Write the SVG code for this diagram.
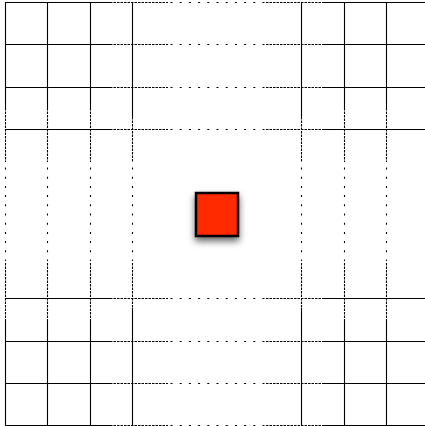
<svg xmlns="http://www.w3.org/2000/svg" width="425" height="426" viewBox="0 0 425 426">
  <style>
    .s { stroke: #000; stroke-width: 1.1; fill: none; }
    .d { stroke: #000; stroke-width: 1.1; fill: none; stroke-dasharray: 2.5 1; }
    .o { stroke: #000; stroke-width: 1.1; fill: none; stroke-dasharray: 2 7.2; }
  </style>
  <defs>
    <filter id="shadow" x="-40%" y="-40%" width="180%" height="180%">
      <feDropShadow dx="0" dy="4" stdDeviation="3.5" flood-color="#000" flood-opacity="0.6"/>
    </filter>
  </defs>
  <rect width="425" height="426" fill="#fff"/>
  <g id="grid">
    <g id="horizontal">
      <path class="s" d="M5 2.5H110M322 2.5H425M5 44.5H110M322 44.5H425M5 87.5H110M322 87.5H425M5 129.5H110M322 129.5H425M5 298.5H110M322 298.5H425M5 341.5H110M322 341.5H425M5 383.5H110M322 383.5H425M5 425.5H110M322 425.5H425"/>
      <path class="d" d="M110 2.5H168M266 2.5H322M110 44.5H168M266 44.5H322M110 87.5H168M266 87.5H322M110 129.5H168M266 129.5H322M110 298.5H168M266 298.5H322M110 341.5H168M266 341.5H322M110 383.5H168M266 383.5H322M110 425.5H168M266 425.5H322"/>
      <path class="o" d="M170.5 2.5H265M170.5 44.5H265M170.5 87.5H265M170.5 129.5H265M170.5 298.5H265M170.5 341.5H265M170.5 383.5H265M170.5 425.5H265"/>
    </g>
    <g id="vertical">
      <path class="s" d="M5.5 2.5V108M5.5 320V426M47.5 2.5V108M47.5 320V426M90.5 2.5V108M90.5 320V426M132.5 2.5V117M132.5 308V426M301.5 2.5V117M301.5 308V426M344.5 2.5V108M344.5 320V426M386.5 2.5V108M386.5 320V426"/>
      <path class="d" d="M5.5 108V162M5.5 263V320M47.5 108V162M47.5 263V320M90.5 108V162M90.5 263V320M132.5 117V162M132.5 263V308M301.5 117V162M301.5 263V308M344.5 108V162M344.5 263V320M386.5 108V162M386.5 263V320"/>
      <path class="o" d="M5.5 167.5V261M47.5 167.5V261M90.5 167.5V261M132.5 167.5V261M301.5 167.5V261M344.5 167.5V261M386.5 167.5V261"/>
    </g>
  </g>
  <g id="square">
    <rect x="196" y="193" width="42" height="43" fill="#ff2a00" stroke="#000" stroke-width="2.5" filter="url(#shadow)"/>
  </g>
</svg>
